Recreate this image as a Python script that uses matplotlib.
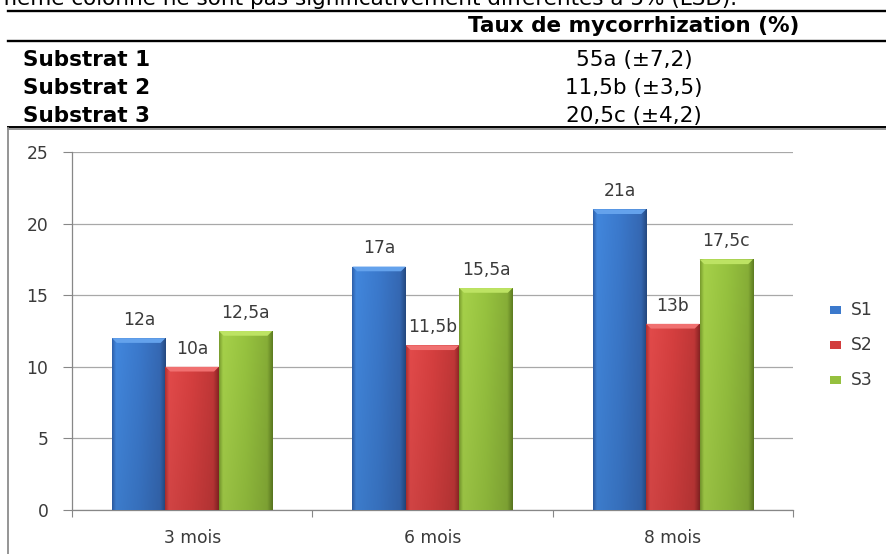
import numpy as np
import matplotlib.pyplot as plt
from matplotlib.lines import Line2D
from matplotlib.patches import Rectangle, Polygon
from matplotlib.colors import to_rgb


W, H = 887, 554

intro_text = "même colonne ne sont pas significativement différentes à 5% (LSD)."
table_header = "Taux de mycorrhization (%)"
table_rows = ["Substrat 1", "Substrat 2", "Substrat 3"]
table_values = ["55a (±7,2)", "11,5b (±3,5)", "20,5c (±4,2)"]

categories = ["3 mois", "6 mois", "8 mois"]
series_names = ["S1", "S2", "S3"]
s1_values = [12, 17, 21]
s2_values = [10, 11.5, 13]
s3_values = [12.5, 15.5, 17.5]
s1_letters = ["a", "a", "a"]
s2_letters = ["a", "b", "b"]
s3_letters = ["a", "a", "c"]

yticks = [0, 5, 10, 15, 20, 25]

# horizontal shading profile for each bar (left edge -> right edge)
profiles = [
    ["#2f62ad", "#4287dd", "#3b79cc", "#3568b3", "#254a82"],
    ["#b33131", "#e24a4a", "#d53f3f", "#c03737", "#8a2424"],
    ["#7b9f2f", "#a6d14a", "#97c33f", "#87ae37", "#5f7e22"],
]
profile_pos = [0.0, 0.07, 0.5, 0.9, 1.0]
bevel_colors = ["#64a2ec", "#f07070", "#bde363"]
legend_colors = ["#3b79cc", "#d23d3d", "#95c03e"]

text_col = "#3a3a3a"
grid_col = "#a8a8a8"
spine_col = "#878787"
chart_font = "DejaVu Sans"
chart_fs = 12.3


def fx(x):
    return x / W


def fy(y):
    return 1 - y / H


def hline(fig, y, x0, x1, color="black", lw=1.6):
    fig.add_artist(Line2D([fx(x0), fx(x1)], [fy(y), fy(y)],
                          transform=fig.transFigure, color=color, lw=lw))


def vline(fig, x, y0, y1, color="black", lw=1.6):
    fig.add_artist(Line2D([fx(x), fx(x)], [fy(y0), fy(y1)],
                          transform=fig.transFigure, color=color, lw=lw))


def shaded_bar(ax, rect, profile, bevel):
    x0, y0 = rect.get_x(), rect.get_y()
    w, h = rect.get_width(), rect.get_height()
    cols = np.array([to_rgb(c) for c in profile])
    t = np.linspace(0, 1, 60)
    row = np.stack([np.interp(t, profile_pos, cols[:, k]) for k in range(3)], axis=1)
    v = np.linspace(1.0, 0.92, 80)[:, None, None]
    img = np.clip(row[None, :, :] * v, 0, 1)
    im = ax.imshow(img, extent=(x0, x0 + w, y0, y0 + h), aspect="auto",
                   origin="upper", zorder=3, interpolation="bilinear")
    im.set_clip_path(rect)
    dx = w * 0.09
    dy = 0.33
    top = y0 + h
    ax.add_patch(Polygon([(x0, top), (x0 + w, top), (x0 + w - dx, top - dy),
                          (x0 + dx, top - dy)], closed=True,
                         facecolor=bevel, edgecolor="none", zorder=4))


fig = plt.figure(figsize=(W / 100, H / 100), dpi=100)

# document text and table
fig.text(fx(-4), fy(5), intro_text, fontsize=15.5, family="DejaVu Sans",
         ha="left", va="baseline", color="black")
hline(fig, 10.5, 8, W + 2, lw=1.7)
fig.text(fx(634), fy(32), table_header, fontsize=15.5, family="DejaVu Sans",
         fontweight="bold", ha="center", va="baseline")
hline(fig, 41, 8, W + 2, lw=1.7)
for i, (name, val) in enumerate(zip(table_rows, table_values)):
    yb = 66 + 28 * i
    fig.text(fx(23), fy(yb), name, fontsize=15.5, family="DejaVu Sans",
             fontweight="bold", ha="left", va="baseline")
    fig.text(fx(634), fy(yb), val, fontsize=15.5, family="DejaVu Sans",
             ha="center", va="baseline")
hline(fig, 126.5, 8, W + 2, color="black", lw=1.4)

# chart frame
hline(fig, 128.5, 8, W + 2, color="#8c8c8c", lw=1.3)
vline(fig, 8.5, 128, H + 2, color="#8c8c8c", lw=1.3)

ax = fig.add_axes([fx(72), fy(510), (793 - 72) / W, (510 - 152) / H])
ax.set_xlim(0, len(categories))
ax.set_ylim(0, 25)

x = np.arange(len(categories)) + 0.5
bw = 1 / 4.5
all_vals = [s1_values, s2_values, s3_values]
all_letters = [s1_letters, s2_letters, s3_letters]
for k, (vals, letters) in enumerate(zip(all_vals, all_letters)):
    bars = ax.bar(x + (k - 1) * bw, vals, bw, color=legend_colors[k],
                  edgecolor="none", zorder=2)
    for rect in bars:
        shaded_bar(ax, rect, profiles[k], bevel_colors[k])
    for xi, v, let in zip(x + (k - 1) * bw, vals, letters):
        lab = (f"{v:g}".replace(".", ",")) + let
        ax.annotate(lab, xy=(xi, v), xytext=(0, 9.5), textcoords="offset points",
                    ha="center", va="baseline", fontsize=chart_fs,
                    family=chart_font, color=text_col, zorder=5)

ax.set_yticks(yticks)
ax.set_yticklabels([str(t) for t in yticks], family=chart_font,
                   fontsize=chart_fs, color=text_col)
ax.tick_params(axis="y", length=6.5, width=0.8, color=spine_col, pad=10.5)
ax.grid(axis="y", color=grid_col, lw=0.9, zorder=0)
ax.set_axisbelow(True)

ax.set_xticks(np.arange(len(categories) + 1))
ax.set_xticklabels([])
ax.set_xticks(x, minor=True)
ax.set_xticklabels(categories, minor=True, family=chart_font,
                   fontsize=chart_fs, color=text_col)
ax.tick_params(axis="x", which="major", length=5, width=0.8, color=spine_col)
ax.tick_params(axis="x", which="minor", length=0, pad=14)

for side in ["top", "right"]:
    ax.spines[side].set_visible(False)
for side in ["left", "bottom"]:
    ax.spines[side].set_color(spine_col)
    ax.spines[side].set_linewidth(0.9)

# legend
for k, name in enumerate(series_names):
    yc = 310 + 35 * k
    fig.add_artist(Rectangle((fx(830), fy(yc + 4)), 11 / W, 8 / H,
                             transform=fig.transFigure,
                             facecolor=legend_colors[k], edgecolor="none"))
    fig.text(fx(851), fy(yc), name, family=chart_font, fontsize=chart_fs,
             color=text_col, ha="left", va="center")

fig.savefig("out.png", dpi=100)
